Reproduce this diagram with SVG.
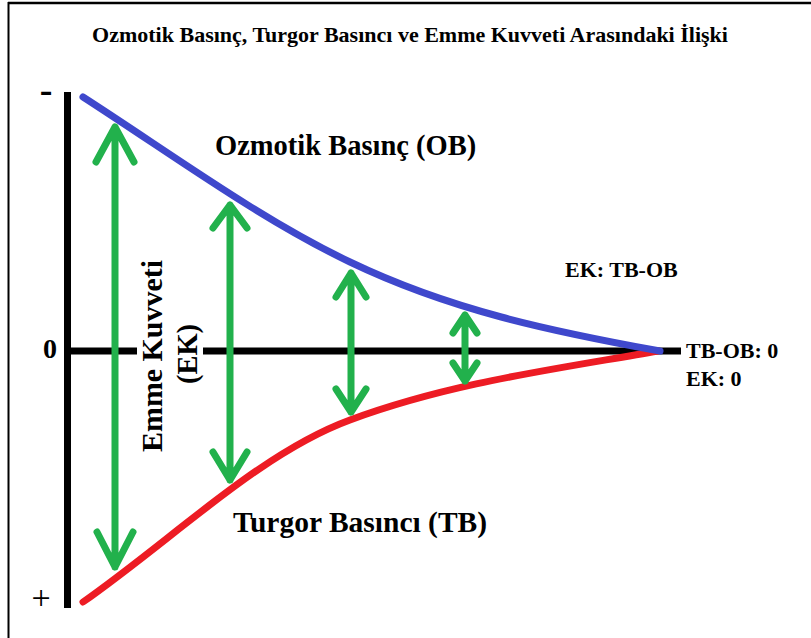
<svg xmlns="http://www.w3.org/2000/svg" width="811" height="638" viewBox="0 0 811 638">
<style>
.t{font-family:'Liberation Serif','Times New Roman',Tinos,'DejaVu Serif',serif;font-weight:700;fill:#000}
.lbl{font-size:28.5px}
.sm{font-size:22px}
.arrow{fill:none;stroke:#22b14c;stroke-width:7;stroke-linecap:round;stroke-linejoin:round}
.curve{fill:none;stroke-width:7;stroke-linecap:round}
</style>
<rect x="0" y="0" width="811" height="638" fill="#fff"/>
<g id="frame">
<line x1="8.5" y1="2" x2="8.5" y2="638" stroke="#000" stroke-width="2"/>
<line x1="8" y1="3" x2="811" y2="3" stroke="#000" stroke-width="2.5"/>
</g>
<g id="title"><text class="t" x="410" y="42" font-size="22" text-anchor="middle">Ozmotik Basınç, Turgor Basıncı ve Emme Kuvveti Arasındaki İlişki</text></g>
<g id="axes">
<line x1="67.5" y1="92" x2="67.5" y2="608" stroke="#000" stroke-width="7"/>
<line x1="64" y1="351" x2="681" y2="351" stroke="#000" stroke-width="7"/>
<text class="t" x="46" y="102" font-size="38" text-anchor="middle">-</text>
<text class="t" x="50" y="358" font-size="28" text-anchor="middle">0</text>
<text font-family="'Liberation Serif', serif" x="41" y="609" font-size="34" text-anchor="middle">+</text>
</g>
<g id="connectors">
<path class="curve" stroke="#ed1c24" d="M83,602 C173,539 260,453 350,420 C450,383 550,370 658,351"/>
<path class="curve" stroke="#3f48cc" d="M83,97 C173,155 260,219 350,262 C450,310 550,331 660,351"/>
<path class="arrow" d="M115,127 L115,567 M96,162 L115,127 L134,162 M97,532 L115,567 L133,532"/>
<path class="arrow" d="M230,205 L230,480 M213,228 L230,205 L247,228 M213,452 L230,480 L247,452"/>
<path class="arrow" d="M351,273 L351,412 M336,297 L351,273 L366,297 M336,389 L351,412 L366,389"/>
<path class="arrow" d="M465,315 L465,381 M453,333 L465,315 L477,333 M453,363 L465,381 L477,363"/>
</g>
<g id="ek-label">
<rect x="137" y="346" width="66" height="11" fill="#fff"/>
<text class="t lbl" transform="translate(162,356) rotate(-90)" text-anchor="middle" textLength="192" lengthAdjust="spacingAndGlyphs">Emme Kuvveti</text>
<text class="t lbl" transform="translate(197,354) rotate(-90)" text-anchor="middle">(EK)</text>
</g>
<g id="ob-label"><text class="t lbl" x="215" y="155">Ozmotik Basınç (OB)</text></g>
<g id="tb-label"><text class="t" font-size="29.5" x="233" y="532">Turgor Basıncı (TB)</text></g>
<g id="ek-formula"><text class="t sm" x="565" y="277">EK: TB-OB</text></g>
<g id="zero-labels">
<text class="t sm" x="686" y="358">TB-OB: 0</text>
<text class="t sm" x="686" y="386">EK: 0</text>
</g>
</svg>
